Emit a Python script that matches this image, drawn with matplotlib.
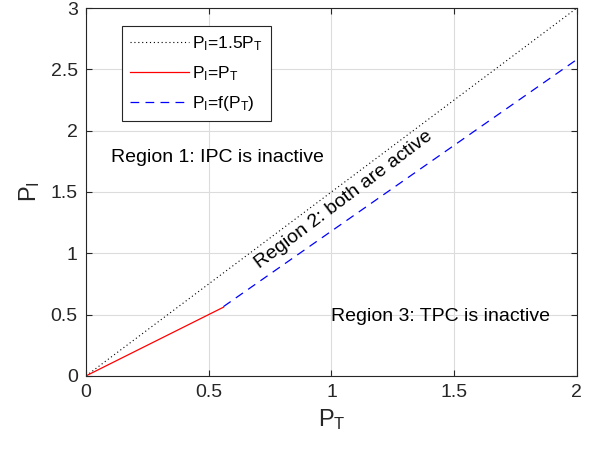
import matplotlib
matplotlib.use("Agg")
import matplotlib.pyplot as plt

plt.rcParams['font.family'] = ['Liberation Sans', 'DejaVu Sans']
plt.rcParams['mathtext.fontset'] = 'custom'
plt.rcParams['mathtext.rm'] = 'Liberation Sans'
plt.rcParams['mathtext.it'] = 'Liberation Sans'

# data
x_dot = [0.0, 2.0]
y_dot = [0.0, 3.0]          # P_I = 1.5 P_T
x_red = [0.0, 0.56]
y_red = [0.0, 0.56]         # P_I = P_T
x_blue = [0.56, 2.0]
y_blue = [0.565, 2.58]      # P_I = f(P_T)

labels = [r'$\mathregular{P_I}$=1.5$\mathregular{P_T}$',
          r'$\mathregular{P_I}$=$\mathregular{P_T}$',
          r'$\mathregular{P_I}$=f($\mathregular{P_T}$)']

fig = plt.figure(figsize=(5.94, 4.49), dpi=100)
ax = fig.add_axes([0.145, 0.163, 0.826, 0.819])

ax.plot(x_dot, y_dot, color='black', linestyle=(0, (1, 2.5)), linewidth=0.8, label=labels[0])
ax.plot(x_red, y_red, color='red', linestyle='-', linewidth=0.9, label=labels[1])
ax.plot(x_blue, y_blue, color='blue', linestyle=(0, (7, 5)), linewidth=0.9, label=labels[2])

ax.set_xlim(0, 2)
ax.set_ylim(0, 3)
ax.set_xticks([0, 0.5, 1, 1.5, 2])
ax.set_xticklabels(['0', '0.5', '1', '1.5', '2'])
ax.set_yticks([0, 0.5, 1, 1.5, 2, 2.5, 3])
ax.set_yticklabels(['0', '0.5', '1', '1.5', '2', '2.5', '3'])
ax.grid(True, color='#dcdcdc', linewidth=0.8)
ax.set_axisbelow(True)
for s in ax.spines.values():
    s.set_color('#262626')
    s.set_linewidth(0.8)
ax.tick_params(direction='in', length=4, width=0.8, colors='#262626', labelsize=14, pad=6,
               top=True, right=True)

ax.set_xlabel(r'$\mathregular{P_T}$', fontsize=17, color='#262626', labelpad=4)
ax.set_ylabel(r'$\mathregular{P_I}$', fontsize=17, color='#262626', labelpad=6)

ax.text(0.1, 1.78, 'Region 1: IPC is inactive', fontsize=14, va='center', ha='left')
ax.text(1.0, 0.48, 'Region 3: TPC is inactive', fontsize=14, va='center', ha='left')
ax.text(0.715, 0.85, 'Region 2: both are active', fontsize=14, va='bottom', ha='left',
        rotation=37, rotation_mode='anchor')

leg = ax.legend(loc='upper left', bbox_to_anchor=(0.073, 0.951), fontsize=12.5,
                frameon=True, fancybox=False, edgecolor='#262626', framealpha=1,
                handlelength=3.4, borderpad=0.45, labelspacing=0.65, handletextpad=0.2,
                borderaxespad=0)
leg.get_frame().set_linewidth(0.8)

fig.savefig('out.png', dpi=100)
